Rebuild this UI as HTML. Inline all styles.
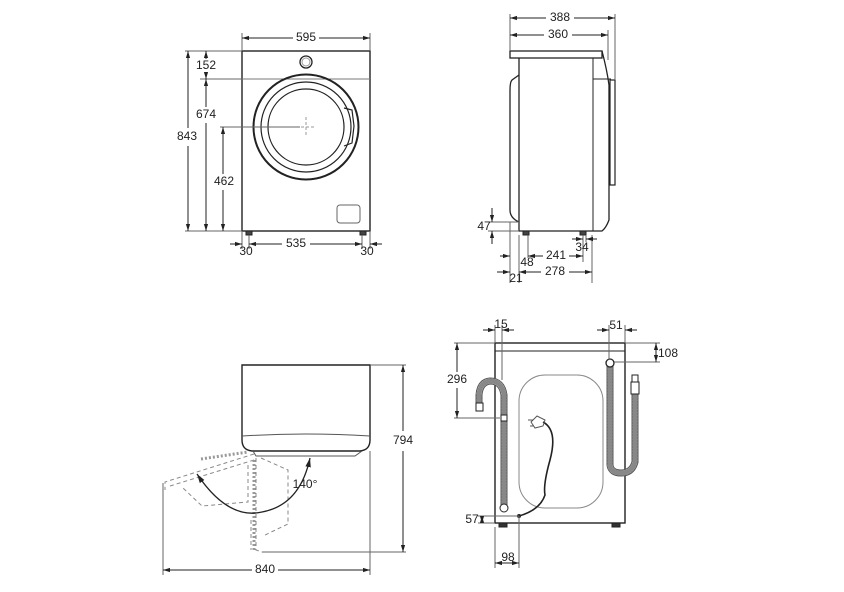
<!DOCTYPE html>
<html><head><style>
html,body{margin:0;padding:0;background:#fff;}
svg{display:block;}
text{font-family:"Liberation Sans",sans-serif;font-size:12px;fill:#222;text-anchor:middle;dominant-baseline:middle;}
</style></head><body>
<svg width="844" height="592" viewBox="0 0 844 592" xmlns="http://www.w3.org/2000/svg">
<defs>
<marker id="a" viewBox="0 0 10 10" refX="10" refY="5" markerWidth="7" markerHeight="7" orient="auto-start-reverse"><path d="M0,2 L10,5 L0,8 z" fill="#222"/></marker>
</defs>
<g fill="none" stroke="#222" stroke-width="1">
<rect x="242" y="51" width="128" height="180" stroke-width="1.4"/>
<line x1="242" y1="79" x2="370" y2="79" stroke="#777"/>
<circle cx="306" cy="62" r="6" stroke-width="1.3"/><circle cx="306" cy="62" r="4" stroke="#999"/>
<circle cx="306" cy="127" r="52.5" stroke-width="2"/>
<circle cx="306" cy="127" r="45" stroke-width="1.2"/>
<circle cx="306" cy="127" r="38" stroke-width="1.2"/>
<path d="M344,108 L352,110 L354,126 L352,143 L344,146" stroke-width="1.2"/>
<path d="M296,127 H316 M306,117 V137" stroke="#999" stroke-dasharray="3,2"/>
<rect x="337" y="205" width="23" height="18" rx="3" stroke="#666"/>
<rect x="246" y="231" width="6" height="4" fill="#444"/><rect x="360" y="231" width="6" height="4" fill="#444"/>
<path d="M242,33 V51 M370,33 V51" stroke="#666"/>
<line x1="242" y1="38" x2="293" y2="38" marker-start="url(#a)"/><line x1="319" y1="38" x2="370" y2="38" marker-end="url(#a)"/>
<path d="M185,51 H242 M185,231 H242 M200,79 H242 M220,127 H300" stroke="#666"/>
<line x1="188" y1="51" x2="188" y2="128" marker-start="url(#a)"/><line x1="188" y1="146" x2="188" y2="231" marker-end="url(#a)"/>
<line x1="206" y1="51" x2="206" y2="59" marker-start="url(#a)"/><line x1="206" y1="73" x2="206" y2="79" marker-end="url(#a)"/>
<line x1="206" y1="79" x2="206" y2="107" marker-start="url(#a)"/><line x1="206" y1="123" x2="206" y2="231" marker-end="url(#a)"/>
<line x1="223" y1="127" x2="223" y2="174" marker-start="url(#a)"/><line x1="223" y1="190" x2="223" y2="231" marker-end="url(#a)"/>
<path d="M242,231 V249 M370,231 V249 M249,235 V249 M362,235 V249" stroke="#666"/>
<line x1="249" y1="244" x2="282" y2="244" marker-start="url(#a)"/><line x1="310" y1="244" x2="362" y2="244" marker-end="url(#a)"/>
<line x1="230" y1="244" x2="242" y2="244" marker-end="url(#a)"/><line x1="382" y1="244" x2="370" y2="244" marker-end="url(#a)"/>
<rect x="510" y="51" width="92" height="7" stroke-width="1.3"/>
<path d="M519,58 V231 H602 Q606,228 609,220 V85 Q607,70 602,51" stroke-width="1.3"/>
<line x1="593" y1="58" x2="593" y2="231"/>
<line x1="593" y1="79" x2="611" y2="79"/>
<rect x="610" y="80" width="5" height="105" stroke-width="1.2"/>
<path d="M519,75 L512,80 Q510,82 510,90 V210 Q510,218 519,222" stroke-width="1.3"/>
<rect x="523" y="231" width="6" height="4" fill="#444"/><rect x="580" y="231" width="6" height="4" fill="#444"/>
<path d="M510,14 V51 M615,14 V80 M608,30 V60" stroke="#666"/>
<line x1="510" y1="18" x2="546" y2="18" marker-start="url(#a)"/><line x1="574" y1="18" x2="615" y2="18" marker-end="url(#a)"/>
<line x1="510" y1="35" x2="544" y2="35" marker-start="url(#a)"/><line x1="572" y1="35" x2="608" y2="35" marker-end="url(#a)"/>
<path d="M488,222 H519 M488,231 H519 M510,222 V283 M519,235 V283 M528,235 V258 M583,235 V262 M592,235 V283 M586,235 V242" stroke="#666"/>
<line x1="492" y1="208" x2="492" y2="222" marker-end="url(#a)"/><line x1="492" y1="244" x2="492" y2="231" marker-end="url(#a)"/>
<line x1="528" y1="256" x2="543" y2="256" marker-start="url(#a)"/><line x1="569" y1="256" x2="583" y2="256" marker-end="url(#a)"/>
<line x1="519" y1="272" x2="541" y2="272" marker-start="url(#a)"/><line x1="569" y1="272" x2="592" y2="272" marker-end="url(#a)"/>
<line x1="500" y1="256" x2="510" y2="256" marker-end="url(#a)"/>
<line x1="497" y1="272" x2="510" y2="272" marker-end="url(#a)"/>
<line x1="572" y1="239" x2="583" y2="239" marker-end="url(#a)"/><line x1="597" y1="239" x2="586" y2="239" marker-end="url(#a)"/>
<path d="M242,365 H370 V440 Q370,450 360,451 H252 Q242,450 242,440 Z" stroke-width="1.4"/>
<path d="M242,436 Q306,432 370,436" stroke="#555"/>
<path d="M253,451 L256,456 H355 L362,451" stroke="#555"/>
<path d="M370,365 H406 M262,552 H406 M163,483 V575 M370,451 V575" stroke="#666"/>
<line x1="403" y1="365" x2="403" y2="431" marker-start="url(#a)"/><line x1="403" y1="451" x2="403" y2="552" marker-end="url(#a)"/>
<line x1="163" y1="570" x2="252" y2="570" marker-start="url(#a)"/><line x1="278" y1="570" x2="370" y2="570" marker-end="url(#a)"/>
<g stroke="#888" stroke-dasharray="4,3">
<path d="M254,454 L165,482 V490 M254,460 L170,486"/>
<path d="M248,465 V502 L202,506 L183,488"/>
<path d="M261,458 L288,470 V524 L263,536"/>
<path d="M256,458 V550 L262,552 M251,520 V550"/>
</g>
<path d="M201,459 L248,452 M254,460 V550" stroke="#999" stroke-width="3" stroke-dasharray="2,2"/>
<path d="M197,474 Q228,520 262,512 Q300,505 310,458" stroke-width="1.3" marker-start="url(#a)" marker-end="url(#a)"/>
<rect x="495" y="343" width="130" height="180" stroke-width="1.4"/>
<line x1="495" y1="351" x2="625" y2="351"/>
<rect x="519" y="375" width="84" height="133" rx="26" stroke="#888"/>
<rect x="499" y="523" width="8" height="4" fill="#333"/><rect x="612" y="523" width="8" height="4" fill="#333"/>
<g stroke-linecap="round">
<path d="M479,408 V395 Q480,382 490,381 Q502,381 504,395 V508" stroke="#555" stroke-width="7"/>
<path d="M479,408 V395 Q480,382 490,381 Q502,381 504,395 V508" stroke="#fff" stroke-width="5"/>
<path d="M479,408 V395 Q480,382 490,381 Q502,381 504,395 V508" stroke="#888" stroke-width="5" stroke-dasharray="1,2"/>
<path d="M610,364 V465 Q611,473 621,473 Q632,473 635,462 V392" stroke="#555" stroke-width="7"/>
<path d="M610,364 V465 Q611,473 621,473 Q632,473 635,462 V392" stroke="#fff" stroke-width="5"/>
<path d="M610,364 V465 Q611,473 621,473 Q632,473 635,462 V392" stroke="#888" stroke-width="5" stroke-dasharray="1,2"/>
</g>
<rect x="476" y="403" width="7" height="8" fill="#fff"/>
<rect x="501" y="415" width="6" height="6" fill="#fff"/>
<circle cx="504" cy="508" r="4" fill="#fff"/>
<circle cx="610" cy="363" r="4" fill="#fff" stroke-width="1.3"/>
<rect x="631" y="382" width="8" height="12" fill="#fff"/><rect x="632" y="375" width="6" height="7" fill="#fff"/>
<path d="M543,422 Q558,430 550,460 Q543,485 545,495 Q540,510 519,516" stroke-width="1.6"/>
<path d="M531,422 L537,416 L545,420 L543,426 L535,428 Z M528,420 H533 M530,426 H534" stroke="#555"/>
<circle cx="519" cy="516" r="1.5" fill="#222"/>
<path d="M495,325 V343 M502,325 V380 M609,325 V360 M625,325 V343 M625,343 H660 M614,362 H660 M454,343 H495 M454,418 H500 M478,516 H519 M478,523 H495 M495,527 V568 M519,516 V568" stroke="#666"/>
<line x1="483" y1="330" x2="495" y2="330" marker-end="url(#a)"/><line x1="514" y1="330" x2="502" y2="330" marker-end="url(#a)"/>
<line x1="597" y1="330" x2="609" y2="330" marker-end="url(#a)"/><line x1="637" y1="330" x2="625" y2="330" marker-end="url(#a)"/>
<line x1="656" y1="343" x2="656" y2="362" marker-start="url(#a)" marker-end="url(#a)"/>
<line x1="457" y1="343" x2="457" y2="372" marker-start="url(#a)"/><line x1="457" y1="388" x2="457" y2="418" marker-end="url(#a)"/>
<line x1="482" y1="516" x2="482" y2="523" marker-start="url(#a)" marker-end="url(#a)"/>
<line x1="495" y1="563" x2="519" y2="563" marker-start="url(#a)" marker-end="url(#a)"/>
</g>
<g>
<text x="306" y="38">595</text>
<text x="187" y="137">843</text>
<text x="206" y="66">152</text>
<text x="206" y="115">674</text>
<text x="224" y="182">462</text>
<text x="296" y="244">535</text>
<text x="246" y="252">30</text>
<text x="367" y="252">30</text>
<text x="560" y="18">388</text>
<text x="558" y="35">360</text>
<text x="484" y="227">47</text>
<text x="556" y="256">241</text>
<text x="527" y="263">48</text>
<text x="555" y="272">278</text>
<text x="516" y="279">21</text>
<text x="582" y="248">34</text>
<text x="403" y="441">794</text>
<text x="265" y="570">840</text>
<text x="305" y="485">140°</text>
<text x="501" y="325">15</text>
<text x="616" y="326">51</text>
<text x="668" y="354">108</text>
<text x="457" y="380">296</text>
<text x="472" y="520">57</text>
<text x="508" y="558">98</text>
</g>
</svg>
</body></html>
